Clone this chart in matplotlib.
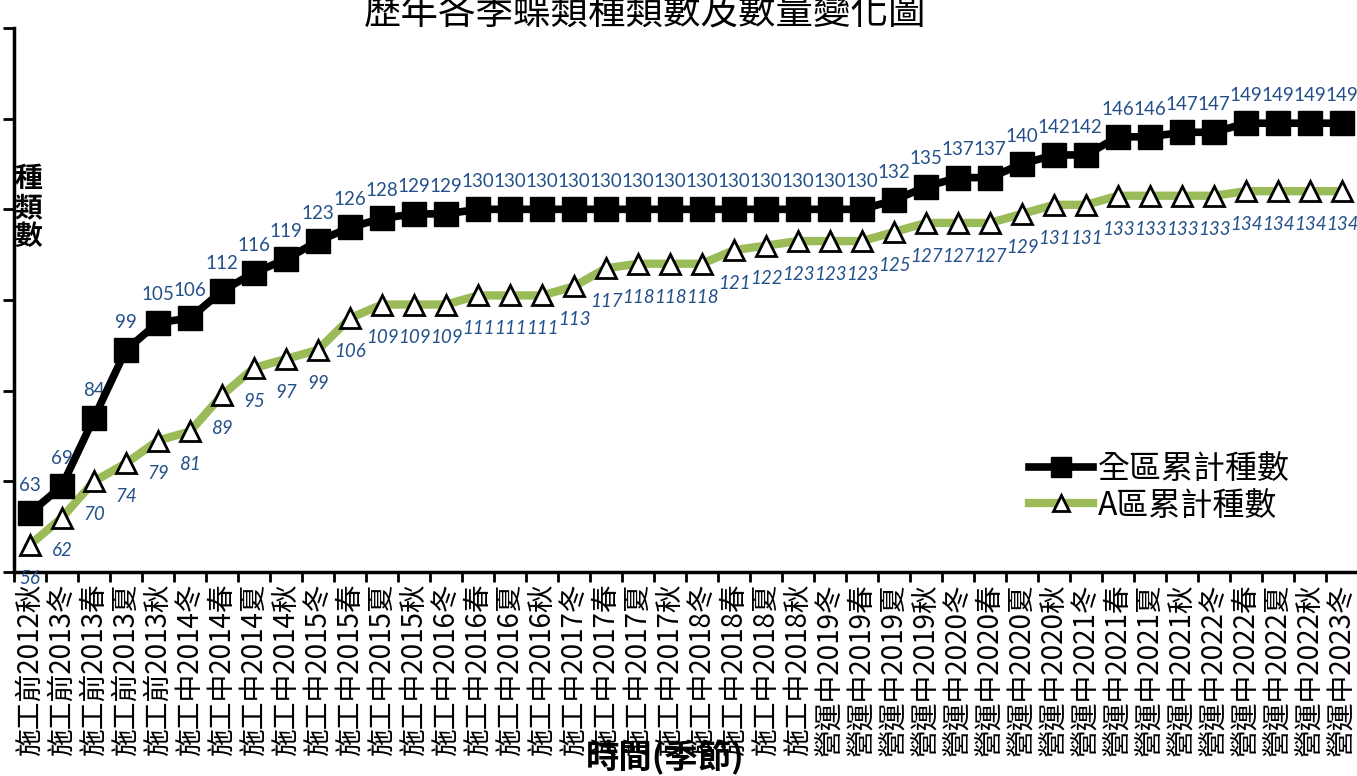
import matplotlib
matplotlib.use("Agg")
import matplotlib.pyplot as plt
from matplotlib.ticker import FixedLocator, NullFormatter

plt.rcParams["font.family"] = ["Noto Sans CJK TC", "DejaVu Sans"]

stages = ["施工前"] * 5 + ["施工中"] * 20 + ["營運中"] * 17
periods = [
    "2012秋", "2013冬", "2013春", "2013夏", "2013秋",
    "2014冬", "2014春", "2014夏", "2014秋",
    "2015冬", "2015春", "2015夏", "2015秋",
    "2016冬", "2016春", "2016夏", "2016秋",
    "2017冬", "2017春", "2017夏", "2017秋",
    "2018冬", "2018春", "2018夏", "2018秋",
    "2019冬", "2019春", "2019夏", "2019秋",
    "2020冬", "2020春", "2020夏", "2020秋",
    "2021冬", "2021春", "2021夏", "2021秋",
    "2022冬", "2022春", "2022夏", "2022秋",
    "2023冬",
]
categories = [s + p for s, p in zip(stages, periods)]

total_species = [
    63, 69, 84, 99, 105, 106, 112, 116, 119, 123, 126, 128, 129, 129,
    130, 130, 130, 130, 130, 130, 130, 130, 130, 130, 130, 130, 130,
    132, 135, 137, 137, 140, 142, 142, 146, 146, 147, 147,
    149, 149, 149, 149,
]
area_a_species = [
    56, 62, 70, 74, 79, 81, 89, 95, 97, 99, 106, 109, 109, 109,
    111, 111, 111, 113, 117, 118, 118, 118, 121, 122, 123, 123, 123,
    125, 127, 127, 127, 129, 131, 131, 133, 133, 133, 133,
    134, 134, 134, 134,
]

label_color = "#24508A"
green = "#9BBB59"

fig = plt.figure(figsize=(13.57, 7.76), dpi=100)
ax = fig.add_axes([14 / 1357, 1 - 572 / 776, 1344 / 1357, 544 / 776])

x = list(range(len(categories)))
ax.plot(x, area_a_species, color=green, lw=6, marker="^", ms=14,
        mfc="white", mec="black", mew=2, label="A區累計種數", zorder=3)
ax.plot(x, total_species, color="black", lw=5.5, marker="s", ms=17,
        mfc="black", mec="black", label="全區累計種數", zorder=4)

for xi, v in zip(x, total_species):
    ax.annotate(str(v), (xi, v), xytext=(0, 20), textcoords="offset points",
                ha="center", va="center", fontsize=13.5, color=label_color,
                family=["Lato", "DejaVu Sans"])
for xi, v in zip(x, area_a_species):
    ax.annotate(str(v), (xi, v), xytext=(0, -24), textcoords="offset points",
                ha="center", va="center", fontsize=13.5, color=label_color,
                style="italic", family=["Lato", "DejaVu Sans"])

ax.set_xlim(-0.5, len(categories) - 0.5)
ax.set_ylim(50, 170)
ax.set_yticks(range(50, 171, 20))
ax.set_yticklabels([])
ax.tick_params(axis="y", direction="out", length=8, width=2)

ax.set_xticks(x)
ax.set_xticklabels(categories, rotation=90, fontsize=20)
ax.xaxis.set_minor_locator(FixedLocator([i - 0.5 for i in range(len(categories) + 1)]))
ax.xaxis.set_minor_formatter(NullFormatter())
ax.tick_params(axis="x", which="major", length=0, pad=8)
ax.tick_params(axis="x", which="minor", direction="out", length=7, width=2)

for side in ("top", "right"):
    ax.spines[side].set_visible(False)
for side in ("left", "bottom"):
    ax.spines[side].set_linewidth(2.5)

handles, labels = ax.get_legend_handles_labels()
leg = fig.legend(handles[::-1], labels[::-1], loc="upper left",
                 bbox_to_anchor=(1000 / 1357, 1 - 424 / 776), frameon=False,
                 fontsize=23, handlelength=2.0, handletextpad=0.15,
                 labelspacing=0.15, markerscale=0.85)

fig.text(645 / 1357, 1 - 14 / 776, "歷年各季蝶類種類數及數量變化圖",
         ha="center", va="center", fontsize=27)
fig.text(28 / 1357, 1 - 208 / 776, "種\n類\n數", ha="center", va="center",
         fontsize=20, fontweight="bold", linespacing=1.05)
fig.text(665 / 1357, 1 - 758 / 776, "時間(季節)", ha="center", va="center",
         fontsize=24, fontweight="bold")

fig.savefig("out.png", dpi=100)
